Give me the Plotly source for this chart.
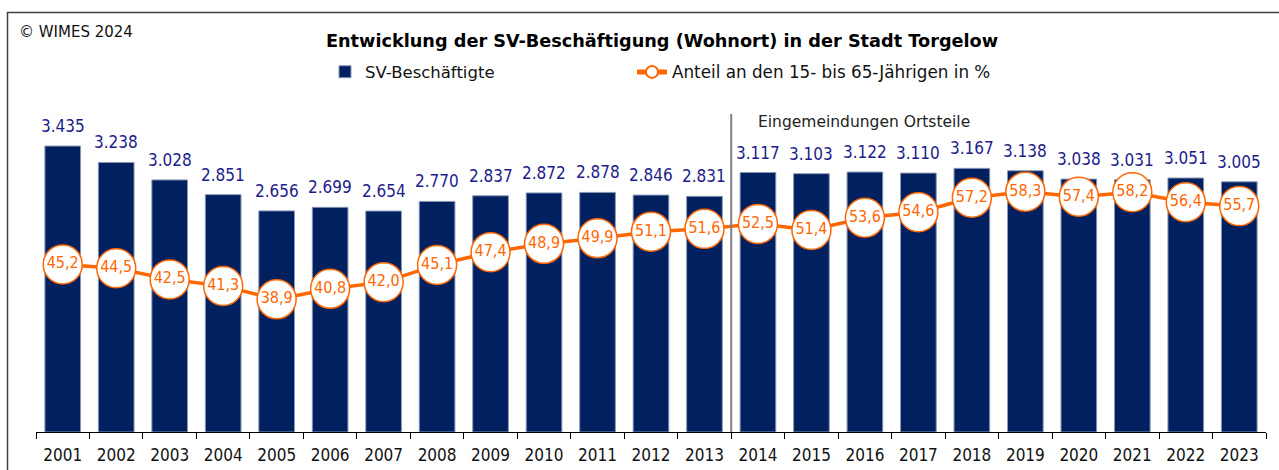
import plotly.graph_objects as go

years = [str(y) for y in range(2001, 2024)]
sv_beschaeftigte = [3435, 3238, 3028, 2851, 2656, 2699, 2654, 2770, 2837, 2872, 2878, 2846,
                    2831, 3117, 3103, 3122, 3110, 3167, 3138, 3038, 3031, 3051, 3005]
anteil = [45.2, 44.5, 42.5, 41.3, 38.9, 40.8, 42.0, 45.1, 47.4, 48.9, 49.9, 51.1,
          51.6, 52.5, 51.4, 53.6, 54.6, 57.2, 58.3, 57.4, 58.2, 56.4, 55.7]
boundaries = [i - 0.5 for i in range(len(years) + 1)]

FONT_C = "DejaVu Sans Condensed, DejaVu Sans, sans-serif"
FONT = "DejaVu Sans, sans-serif"
NAVY = "#002060"
ORANGE = "#FF6600"


def de_int(v):
    return f"{v:,}".replace(",", ".")


def de_dec(v):
    return f"{v:.1f}".replace(".", ",")


fig = go.Figure()
fig.add_trace(go.Bar(
    x=years, y=sv_beschaeftigte, name="SV-Beschäftigte",
    marker=dict(color=NAVY, line=dict(color="#8a97b5", width=1)),
    legend="legend", hoverinfo="x+y",
))
fig.add_trace(go.Scatter(
    x=years, y=anteil, name="Anteil an den 15- bis 65-Jährigen in %",
    yaxis="y2", mode="lines+markers+text",
    line=dict(color=ORANGE, width=3.5),
    marker=dict(size=39, color="white", line=dict(color=ORANGE, width=1.5)),
    text=[de_dec(v) for v in anteil], textposition="middle center",
    textfont=dict(family=FONT_C, size=16, color=ORANGE),
    legend="legend2",
))

annotations = []
for i, v in enumerate(sv_beschaeftigte):
    annotations.append(dict(
        x=i, y=v, xref="x", yref="y", text=de_int(v), showarrow=False,
        yanchor="bottom", yshift=8, font=dict(family=FONT_C, size=17, color="#1c1c8a"),
    ))
annotations.append(dict(
    x=12.5, y=1 + (99 - 122) / 333, xref="x", yref="paper", text="Eingemeindungen Ortsteile",
    showarrow=False, xanchor="left", yanchor="middle", xshift=25,
    font=dict(family=FONT, size=15.5, color="#222222"),
))
annotations.append(dict(
    x=(17 - 36) / 1230, y=1 + (99 - 32) / 333, xref="paper", yref="paper",
    text="© WIMES 2024", showarrow=False, xanchor="left", yanchor="middle",
    font=dict(family=FONT, size=15, color="#111111"),
))

shapes = [
    dict(type="line", xref="x", yref="paper", x0=12.5, x1=12.5, y0=0, y1=1 + (99 - 114) / 333,
         line=dict(color="#808080", width=2)),
    dict(type="rect", xref="paper", yref="paper",
         x0=(7.5 - 36) / 1230, x1=1.2, y0=-0.3, y1=1 + (99 - 12.5) / 333,
         line=dict(color="#404040", width=1.5), layer="below"),
]

fig.update_layout(
    width=1279, height=470,
    margin=dict(l=36, r=13, t=99, b=38, autoexpand=False),
    paper_bgcolor="white", plot_bgcolor="white",
    font=dict(family=FONT, size=16, color="#111111"),
    title=dict(text="<b>Entwicklung der SV-Beschäftigung (Wohnort) in der Stadt Torgelow</b>",
               x=662 / 1279, xanchor="center", xref="container",
               y=1 - 41 / 470, yanchor="middle", yref="container",
               font=dict(family=FONT, size=17.7, color="#000000")),
    bargap=0.333,
    showlegend=True,
    legend=dict(orientation="h", x=(325 - 36) / 1230, xanchor="left",
                y=1 + (99 - 72) / 333, yanchor="middle",
                font=dict(family=FONT, size=16.5, color="#111111"),
                bgcolor="rgba(0,0,0,0)"),
    legend2=dict(orientation="h", x=(632 - 36) / 1230, xanchor="left",
                 y=1 + (99 - 72) / 333, yanchor="middle", itemsizing="constant",
                 font=dict(family=FONT, size=16.8, color="#111111"),
                 bgcolor="rgba(0,0,0,0)"),
    xaxis=dict(type="category", range=[-0.5, len(years) - 0.5], showline=True,
               linecolor="#000000", linewidth=1,
               ticks="outside", tickson="boundaries", ticklen=6, tickcolor="#000000",
               tickfont=dict(family=FONT_C, size=17, color="#111111"),
               ticklabelstandoff=8, showgrid=False, zeroline=False),
    xaxis2=dict(overlaying="x", anchor="y", range=[-0.5, len(years) - 0.5],
                tickmode="array", tickvals=boundaries, ticks="inside", ticklen=5,
                tickcolor="#000000", showticklabels=False, showgrid=False,
                zeroline=False, showline=False),
    yaxis=dict(range=[0, 4000], visible=False, showgrid=False),
    yaxis2=dict(range=[15, 75], overlaying="y", visible=False, showgrid=False),
    annotations=annotations,
    shapes=shapes,
)

fig.write_html("out.html", config={"displayModeBar": False},
               post_script="document.body.style.margin='0';")
